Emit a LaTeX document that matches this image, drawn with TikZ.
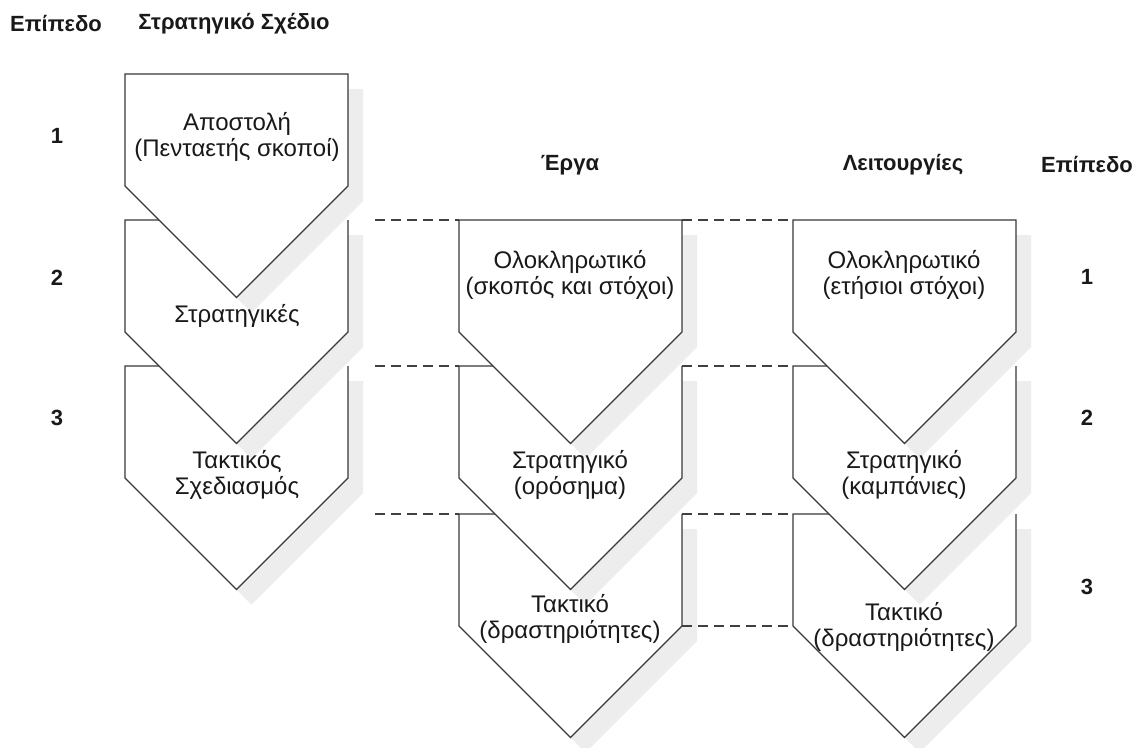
\documentclass[tikz,border=0pt]{standalone}
\usepackage{fontspec}
\setmainfont{Liberation Sans}
\begin{document}
\begin{tikzpicture}[x=1pt,y=-1pt,line join=miter]
\tikzset{
  outline/.style={draw=black!78,line width=1.3pt},
  shadowfill/.style={fill=black!7},
  guide/.style={draw=black!75,line width=1.2pt,dash pattern=on 10pt off 6pt},
  body/.style={font=\fontsize{24}{25.5}\selectfont,align=center,text=black!90,inner sep=0pt},
  head/.style={font=\fontsize{22}{24}\selectfont\bfseries,text=black!90,inner sep=0pt},
}
% chevron block: shadow, white body and its corner coordinates
\newcommand\chevbox[3]{%
  \fill[shadowfill] (#1+15,#2+15) -- ++(223,0) -- ++(0,112) -- ++(-111.5,111.5) -- ++(-111.5,-111.5) -- cycle;
  \fill[white] (#1,#2) -- ++(223,0) -- ++(0,112) -- ++(-111.5,111.5) -- ++(-111.5,-111.5) -- cycle;
  \coordinate (#3-nw) at (#1,#2);
  \coordinate (#3-ne) at (#1+223,#2);
  \coordinate (#3-se) at (#1+223,#2+112);
  \coordinate (#3-sw) at (#1,#2+112);
  \coordinate (#3-tip) at (#1+111.5,#2+223.5);
  \coordinate (#3-c) at (#1+111.5,#2);
}
\newcommand\chevlow[1]{\draw[outline] (#1-ne) -- (#1-se) -- (#1-tip) -- (#1-sw) -- (#1-nw) -- (#1-c);}
\newcommand\chevtop[1]{\draw[outline] (#1-nw) -- (#1-ne) -- (#1-se) -- (#1-tip) -- (#1-sw) -- cycle;}

\useasboundingbox (0,0) rectangle (1143,747);
\fill[white] (0,0) rectangle (1143,747);

% strategic plan column
\chevbox{125}{366}{L3}\chevlow{L3}
\chevbox{125}{220}{L2}\chevlow{L2}
\chevbox{125}{74}{L1}\chevtop{L1}
% projects column
\chevbox{459}{514}{M3}\chevlow{M3}
\chevbox{459}{366}{M2}\chevlow{M2}
\chevbox{459}{220}{M1}\chevtop{M1}
% operations column
\chevbox{793}{514}{R3}\chevlow{R3}
\chevbox{793}{366}{R2}\chevlow{R2}
\chevbox{793}{220}{R1}\chevtop{R1}

% level guides
\coordinate (g1) at (375,220);
\coordinate (g2) at (375,366);
\coordinate (g3) at (375,514);
\draw[guide] (g1) -- (M1-nw);
\draw[guide] (M1-ne) -- (R1-nw);
\draw[guide] (g2) -- (M2-nw);
\draw[guide] (M2-ne) -- (R2-nw);
\draw[guide] (g3) -- (M3-nw);
\draw[guide] (M3-ne) -- (R3-nw);
\draw[guide] (M3-se) -- (R3-sw);

% headings
\node[head] (hlev) at (56,24) {Επίπεδο};
\node[head] (hplan) at (234,24) {Στρατηγικό Σχέδιο};
\node[head] (hproj) at (570,165) {Έργα};
\node[head] (hops) at (903,165) {Λειτουργίες};
\node[head] (hlev2) at (1087,165) {Επίπεδο};

% level numbers
\node[head] (n1) at (57,136) {1};
\node[head] (n2) at (57,278) {2};
\node[head] (n3) at (57,418) {3};
\node[head] (m1) at (1087,277) {1};
\node[head] (m2) at (1087,418) {2};
\node[head] (m3) at (1087,587) {3};

% block texts
\node[body] (tL1) at (237,137) {Αποστολή\\(Πενταετής σκοποί)};
\node[body] (tL2) at (237,316) {Στρατηγικές};
\node[body] (tL3) at (237,475) {Τακτικός\\Σχεδιασμός};
\node[body] (tM1) at (570,275) {Ολοκληρωτικό\\(σκοπός και στόχοι)};
\node[body] (tM2) at (570,475) {Στρατηγικό\\(ορόσημα)};
\node[body] (tM3) at (570,619) {Τακτικό\\(δραστηριότητες)};
\node[body] (tR1) at (904,275) {Ολοκληρωτικό\\(ετήσιοι στόχοι)};
\node[body] (tR2) at (904,475) {Στρατηγικό\\(καμπάνιες)};
\node[body] (tR3) at (904,627) {Τακτικό\\(δραστηριότητες)};
\end{tikzpicture}
\end{document}
